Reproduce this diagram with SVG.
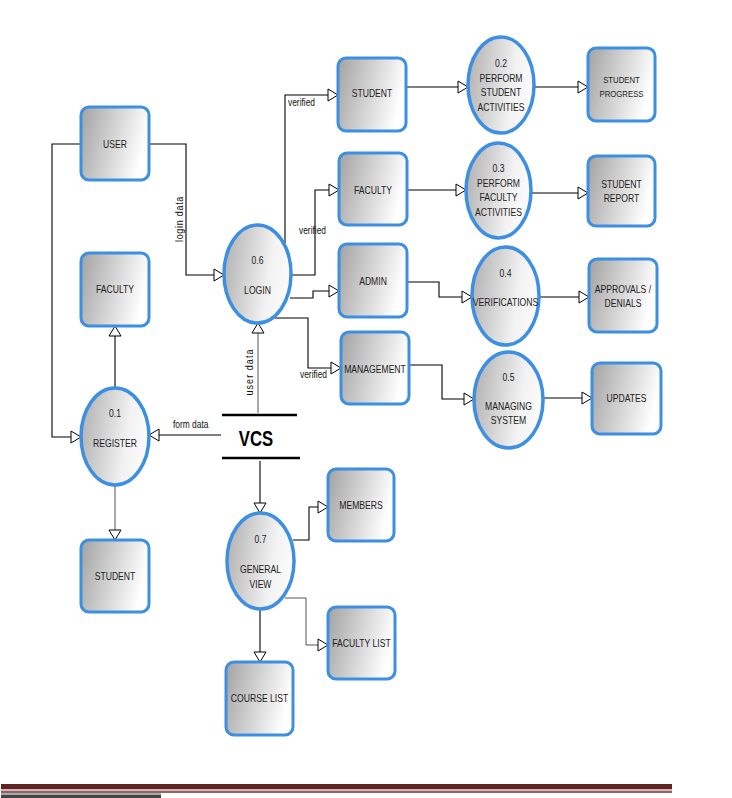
<svg xmlns="http://www.w3.org/2000/svg" width="732" height="798" viewBox="0 0 732 798">
<defs>
<linearGradient id="gr" x1="0" y1="0" x2="1" y2="0.25">
<stop offset="0" stop-color="#a2a2a2"/><stop offset="1" stop-color="#ffffff"/>
</linearGradient>
<linearGradient id="ge" x1="0" y1="0" x2="1" y2="0.2">
<stop offset="0" stop-color="#adadad"/><stop offset="0.75" stop-color="#f2f2f2"/><stop offset="1" stop-color="#fafafa"/>
</linearGradient>
<marker id="ar" markerUnits="userSpaceOnUse" markerWidth="14" markerHeight="16" refX="11" refY="7" orient="auto">
<path d="M1,1 L11,7 L1,13 Z" fill="#fff" stroke="#000" stroke-width="1"/>
</marker>
<style>
.box{fill:url(#gr);stroke:#3d8fe3;stroke-width:3}
.proc{fill:url(#ge);stroke:#3d8fe3;stroke-width:3.5}
.t{font-family:"Liberation Sans",Arial,sans-serif;font-size:10.5px;fill:#222;text-anchor:middle}
.ts{font-size:9.5px}
.lb{font-family:"Liberation Sans",Arial,sans-serif;font-size:10px;fill:#111}
.c{fill:none;stroke:#000;stroke-width:1.1}
.cg{fill:none;stroke:#555;stroke-width:1}
.a{marker-end:url(#ar)}
</style>
</defs>
<rect width="732" height="798" fill="#fff"/>

<g id="connectors">
<path class="c a" d="M149,144 H186 V275 H224"/>
<path class="c a" d="M81,144 H52 V437 H81"/>
<path class="c a" d="M115,388 V326"/>
<path class="cg a" d="M115,485 V540"/>
<path class="c a" d="M221,435 H149"/>
<path class="cg a" d="M258,413 V323"/>
<path class="c a" d="M260,461 V513"/>
<path class="c a" d="M293,540 H309 V507 H328"/>
<path class="cg a" d="M285,598 H306 V645 H328"/>
<path class="c a" d="M260,609 V662"/>
<path class="c a" d="M285,243 V95 H338"/>
<path class="c a" d="M291,275 H315 V190 H339"/>
<path class="c a" d="M290,298 H313 V291 H339"/>
<path class="c a" d="M275,318 H308 V368 H341"/>
<path class="c a" d="M406,87 H468"/>
<path class="c a" d="M534,87 H588"/>
<path class="c a" d="M407,190 H466"/>
<path class="c a" d="M531,193 H588"/>
<path class="c a" d="M407,282 H439 V297 H472"/>
<path class="c a" d="M539,297 H589"/>
<path class="c a" d="M409,365 H442 V399 H474"/>
<path class="c a" d="M543,398 H592"/>
<text class="lb" transform="translate(183,219) rotate(-90) scale(0.9,1)" text-anchor="middle" letter-spacing="0.8" fill="#444">login data</text>
<text class="lb" transform="translate(253,372) rotate(-90) scale(0.9,1)" text-anchor="middle" letter-spacing="1.2" fill="#444">user data</text>
<text class="lb" transform="translate(173,428) scale(0.84,1)">form data</text>
<text class="lb" transform="translate(288,106) scale(0.84,1)">verified</text>
<text class="lb" transform="translate(299,234) scale(0.84,1)">verified</text>
<text class="lb" transform="translate(300,378) scale(0.84,1)">verified</text>
</g>

<g id="vcs">
<line x1="222" y1="415" x2="297" y2="415" stroke="#000" stroke-width="2.5"/>
<line x1="222" y1="458" x2="300" y2="458" stroke="#000" stroke-width="2.5"/>
<text transform="translate(256,446) scale(0.76,1)" style="font-family:'Liberation Sans',Arial,sans-serif;font-size:22px;font-weight:bold" text-anchor="middle" fill="#000">VCS</text>
</g>

<g id="user"><rect class="box" x="81" y="107" width="68" height="73" rx="8"/><text class="t" transform="translate(115,148) scale(0.82,1)">USER</text></g>
<g id="faculty-left"><rect class="box" x="81" y="253" width="68" height="73" rx="8"/><text class="t" transform="translate(115,293) scale(0.82,1)">FACULTY</text></g>
<g id="student-left"><rect class="box" x="81" y="540" width="68" height="72" rx="8"/><text class="t" transform="translate(115,580) scale(0.82,1)">STUDENT</text></g>
<g id="register"><ellipse class="proc" cx="115" cy="436.5" rx="34" ry="48.5"/><text class="t" transform="translate(115,417) scale(0.82,1)">0.1</text><text class="t" transform="translate(115,447) scale(0.82,1)">REGISTER</text></g>
<g id="login"><ellipse class="proc" cx="257.5" cy="274" rx="33.5" ry="49"/><text class="t" transform="translate(257.5,264) scale(0.82,1)">0.6</text><text class="t" transform="translate(257.5,294) scale(0.82,1)">LOGIN</text></g>
<g id="general-view"><ellipse class="proc" cx="260.5" cy="561" rx="33.5" ry="48"/><text class="t" transform="translate(260.5,543) scale(0.82,1)">0.7</text><text class="t" transform="translate(260.5,573) scale(0.82,1)">GENERAL</text><text class="t" transform="translate(260.5,588) scale(0.82,1)">VIEW</text></g>
<g id="members"><rect class="box" x="328" y="469" width="66" height="72" rx="8"/><text class="t" transform="translate(361,509) scale(0.82,1)">MEMBERS</text></g>
<g id="faculty-list"><rect class="box" x="328" y="607" width="67" height="72" rx="8"/><text class="t" transform="translate(361.5,647) scale(0.82,1)">FACULTY LIST</text></g>
<g id="course-list"><rect class="box" x="226" y="662" width="67" height="73" rx="8"/><text class="t" transform="translate(259.5,702) scale(0.82,1)">COURSE LIST</text></g>

<g id="student"><rect class="box" x="338" y="58" width="68" height="73" rx="8"/><text class="t" transform="translate(372,97) scale(0.82,1)">STUDENT</text></g>
<g id="faculty"><rect class="box" x="339" y="153" width="68" height="72" rx="8"/><text class="t" transform="translate(373,194) scale(0.82,1)">FACULTY</text></g>
<g id="admin"><rect class="box" x="339" y="244" width="68" height="73" rx="8"/><text class="t" transform="translate(373,285) scale(0.82,1)">ADMIN</text></g>
<g id="management"><rect class="box" x="341" y="332" width="68" height="72" rx="8"/><text class="t" transform="translate(375,373) scale(0.82,1)">MANAGEMENT</text></g>

<g id="p02"><ellipse class="proc" cx="501" cy="85" rx="33" ry="48"/><text class="t" transform="translate(501,67) scale(0.82,1)">0.2</text><text class="t" transform="translate(501,82) scale(0.82,1)">PERFORM</text><text class="t" transform="translate(501,96) scale(0.82,1)">STUDENT</text><text class="t" transform="translate(501,111) scale(0.82,1)">ACTIVITIES</text></g>
<g id="p03"><ellipse class="proc" cx="498.5" cy="190.5" rx="32.5" ry="47.5"/><text class="t" transform="translate(498.5,172) scale(0.82,1)">0.3</text><text class="t" transform="translate(498.5,187) scale(0.82,1)">PERFORM</text><text class="t" transform="translate(498.5,201) scale(0.82,1)">FACULTY</text><text class="t" transform="translate(498.5,216) scale(0.82,1)">ACTIVITIES</text></g>
<g id="p04"><ellipse class="proc" cx="505.5" cy="296" rx="33.5" ry="49"/><text class="t" transform="translate(505.5,277) scale(0.82,1)">0.4</text><text class="t" transform="translate(505.5,306) scale(0.82,1)">VERIFICATIONS</text></g>
<g id="p05"><ellipse class="proc" cx="508.5" cy="400" rx="34.5" ry="48"/><text class="t" transform="translate(508.5,381) scale(0.82,1)">0.5</text><text class="t" transform="translate(508.5,410) scale(0.82,1)">MANAGING</text><text class="t" transform="translate(508.5,424) scale(0.82,1)">SYSTEM</text></g>

<g id="student-progress"><rect class="box" x="588" y="48" width="67" height="73" rx="8"/><text class="t ts" transform="translate(621.5,83) scale(0.82,1)">STUDENT</text><text class="t ts" transform="translate(621.5,97) scale(0.82,1)">PROGRESS</text></g>
<g id="student-report"><rect class="box" x="588" y="156" width="67" height="70" rx="8"/><text class="t" transform="translate(621.5,188) scale(0.82,1)">STUDENT</text><text class="t" transform="translate(621.5,202) scale(0.82,1)">REPORT</text></g>
<g id="approvals"><rect class="box" x="589" y="259" width="68" height="73" rx="8"/><text class="t" transform="translate(623,293) scale(0.82,1)">APPROVALS /</text><text class="t" transform="translate(623,307) scale(0.82,1)">DENIALS</text></g>
<g id="updates"><rect class="box" x="592" y="363" width="69" height="71" rx="8"/><text class="t" transform="translate(626.5,402) scale(0.82,1)">UPDATES</text></g>

<g id="footer">
<rect x="1" y="784" width="671" height="5" fill="#5c2424"/>
<rect x="1" y="789" width="671" height="2" fill="#d9b3b3"/>
<rect x="1" y="791" width="671" height="2" fill="#8a6666"/>
<rect x="1" y="793" width="160" height="2" fill="#aaaaaa"/>
<rect x="1" y="795" width="160" height="3" fill="#444444"/>
</g>
</svg>
